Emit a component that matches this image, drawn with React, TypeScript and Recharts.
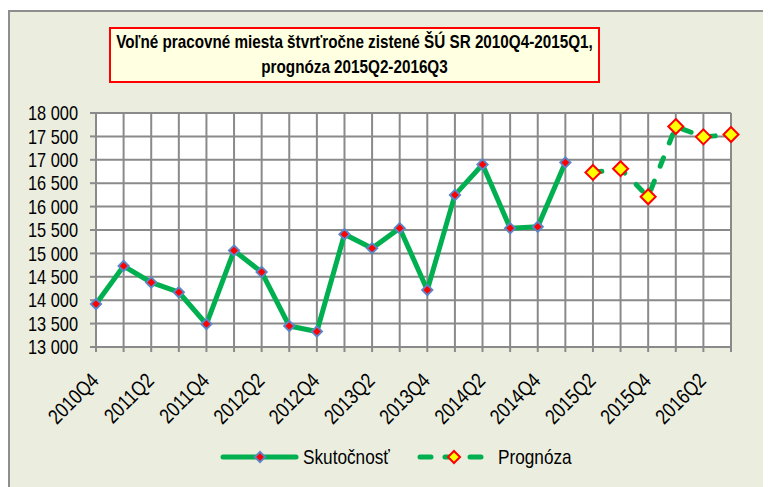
import React from "react"
import { LineChart, Line, XAxis, YAxis, CartesianGrid } from "recharts"

const quarters = [
  "2010Q4", "2011Q1", "2011Q2", "2011Q3", "2011Q4", "2012Q1", "2012Q2", "2012Q3",
  "2012Q4", "2013Q1", "2013Q2", "2013Q3", "2013Q4", "2014Q1", "2014Q2", "2014Q3",
  "2014Q4", "2015Q1", "2015Q2", "2015Q3", "2015Q4", "2016Q1", "2016Q2", "2016Q3",
]

// Skutočnosť 2010Q4 - 2015Q1
const actual = [
  13920, 14730, 14380, 14170, 13490, 15060, 14600, 13450, 13330,
  15410, 15110, 15540, 14220, 16250, 16900, 15540, 15570, 16940,
]

// Prognóza 2015Q2 - 2016Q3
const forecast = [16730, 16810, 16210, 17710, 17490, 17540]

const yTicks = [13000, 13500, 14000, 14500, 15000, 15500, 16000, 16500, 17000, 17500, 18000]

const data = quarters.map((q, i) => ({
  q,
  actual: i < actual.length ? actual[i] : null,
  forecast: i >= actual.length ? forecast[i - actual.length] : null,
}))

// no Arial Narrow here, so squeeze Liberation Sans horizontally
const FONT = '"Liberation Sans", Arial, sans-serif'
const NARROW = 0.82
const GREEN = "#00B050"
const GRID = "#8a8a8a"

const fmt = (v: number) => {
  const s = String(v)
  return s.slice(0, s.length - 3) + " " + s.slice(-3)
}

function diamond(cx: number, cy: number, r: number) {
  return `${cx},${cy - r} ${cx + r},${cy} ${cx},${cy + r} ${cx - r},${cy}`
}

const ActualDot = (props: any) => {
  const { cx, cy, index } = props
  if (cx == null || cy == null || props.value == null) return <g key={`a${index}`} />
  return (
    <g key={`a${index}`}>
      <polygon points={diamond(cx, cy, 6.5)} fill="#5B87C8" />
      <polygon points={diamond(cx, cy, 3.8)} fill="#FF0000" />
    </g>
  )
}

const ForecastDot = (props: any) => {
  const { cx, cy, index } = props
  if (cx == null || cy == null || props.value == null) return <g key={`f${index}`} />
  return (
    <polygon
      key={`f${index}`}
      points={diamond(cx, cy, 7.5)}
      fill="#FFFF00"
      stroke="#FF0000"
      strokeWidth={2}
    />
  )
}

const XTick = (props: any) => {
  const { x, y, payload, index } = props
  if (index % 2 === 1) return <g />
  return (
    <g transform={`translate(${x + 4},${y + 28}) rotate(-45) scale(${NARROW},1)`}>
      <text textAnchor="end" fontSize={21} fontFamily={FONT} fill="#000">
        {payload.value}
      </text>
    </g>
  )
}

const YTick = (props: any) => {
  const { x, y, payload } = props
  return (
    <g transform={`translate(${x},${y}) scale(${NARROW},1)`}>
      <text textAnchor="end" dy="0.36em" fontSize={20} fontFamily={FONT} fill="#000">
        {fmt(payload.value)}
      </text>
    </g>
  )
}

export default function App() {
  return (
    <div style={{ paddingTop: 2 }}>
      <div
        style={{
          position: "relative",
          width: 763,
          height: 479,
          boxSizing: "border-box",
          background: "#EBEEDF",
          borderTop: "2px solid #8e8e8e",
          borderLeft: "2px solid #8e8e8e",
          fontFamily: FONT,
        }}
      >
        <LineChart
          width={761}
          height={475}
          data={data}
          margin={{ top: 101, right: 40, left: 0, bottom: 0 }}
        >
          <CartesianGrid stroke={GRID} strokeWidth={2} fill="#ffffff" fillOpacity={1} />
          <XAxis
            dataKey="q"
            interval={0}
            height={140}
            tick={<XTick />}
            tickSize={5}
            tickLine={{ stroke: GRID, strokeWidth: 2 }}
            axisLine={{ stroke: GRID, strokeWidth: 2 }}
          />
          <YAxis
            width={86}
            domain={[13000, 18000]}
            ticks={yTicks}
            interval={0}
            tickSize={6}
            tickMargin={12}
            tick={<YTick />}
            tickLine={{ stroke: GRID, strokeWidth: 2 }}
            axisLine={{ stroke: GRID, strokeWidth: 2 }}
          />
          <Line
            dataKey="actual"
            name="Skutočnosť"
            stroke={GREEN}
            strokeWidth={5}
            dot={ActualDot}
            activeDot={false}
            isAnimationActive={false}
          />
          <Line
            dataKey="forecast"
            name="Prognóza"
            stroke={GREEN}
            strokeWidth={5}
            strokeDasharray="9 16"
            strokeLinecap="round"
            dot={ForecastDot}
            activeDot={false}
            isAnimationActive={false}
          />
        </LineChart>

        {/* title box */}
        <div
          style={{
            position: "absolute",
            left: 99,
            top: 15,
            width: 491,
            height: 56,
            boxSizing: "border-box",
            border: "2px solid #FF0000",
            background: "#FFFFE1",
            overflow: "hidden",
          }}
        >
          <div
            style={{
              width: 487 / NARROW,
              transform: `scaleX(${NARROW})`,
              transformOrigin: "0 0",
              textAlign: "center",
              fontWeight: "bold",
              fontSize: 18.6,
              lineHeight: "25px",
              color: "#000",
              whiteSpace: "nowrap",
            }}
          >
            Voľné pracovné miesta štvrťročne zistené ŠÚ SR 2010Q4-2015Q1,
            <br />
            prognóza 2015Q2-2016Q3
          </div>
        </div>

        {/* legend */}
        <svg
          width={761}
          height={50}
          style={{ position: "absolute", left: 0, top: 418 }}
        >
          <line x1={213} y1={27} x2={286} y2={27} stroke={GREEN} strokeWidth={5} strokeLinecap="round" />
          <polygon points={diamond(250, 27, 6.5)} fill="#5B87C8" />
          <polygon points={diamond(250, 27, 3.8)} fill="#FF0000" />
          <g transform={`translate(293,34) scale(${NARROW},1)`}>
            <text fontSize={21} fontFamily={FONT} fill="#000">Skutočnosť</text>
          </g>
          <line x1={410} y1={27} x2={471} y2={27} stroke={GREEN} strokeWidth={5} strokeDasharray="11 14" strokeLinecap="round" />
          <polygon points={diamond(444, 27, 6)} fill="#FFFF00" stroke="#FF0000" strokeWidth={2} />
          <g transform={`translate(488,34) scale(${NARROW},1)`}>
            <text fontSize={21} fontFamily={FONT} fill="#000">Prognóza</text>
          </g>
        </svg>
      </div>
    </div>
  )
}
